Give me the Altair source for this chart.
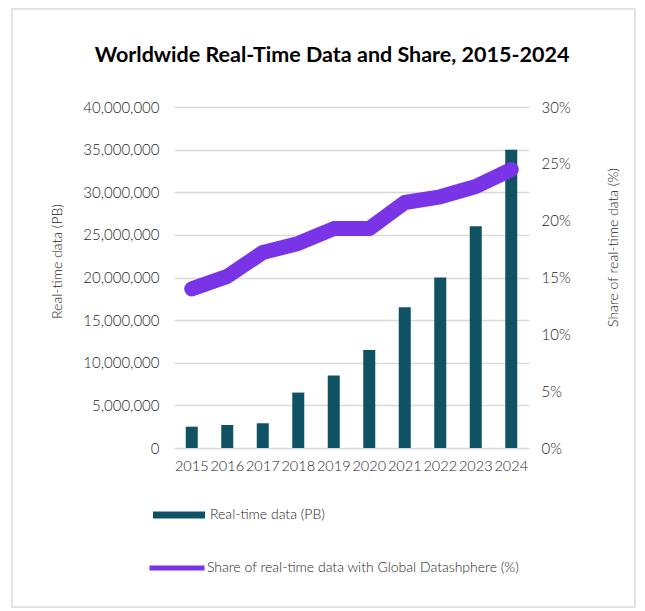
import altair as alt
import pandas as pd

# ---- data ----
years = ["2015", "2016", "2017", "2018", "2019", "2020", "2021", "2022", "2023", "2024"]
realtime_pb = [2500000, 2700000, 2900000, 6500000, 8500000, 11500000, 16500000, 20000000, 26000000, 35000000]
share = [0.140, 0.151, 0.172, 0.180, 0.193, 0.193, 0.216, 0.221, 0.230, 0.245]

title_text = "Worldwide Real-Time Data and Share, 2015-2024"
bar_name = "Real-time data (PB)"
line_name = "Share of real-time data with Global Datashphere (%)"
left_title = "Real-time data (PB)"
right_title = "Share of real-time data (%)"

left_ticks = [0, 5000000, 10000000, 15000000, 20000000, 25000000, 30000000, 35000000, 40000000]
right_ticks = [0, 0.05, 0.10, 0.15, 0.20, 0.25, 0.30]

TEAL = "#0e5263"
PURPLE = "#7934e7"
TXT = "#262626"
FONT = "Lato"
LW = 300

df = pd.DataFrame({
    "year": years,
    "pb": realtime_pb,
    "share": share,
    "bar_series": [bar_name] * len(years),
    "line_series": [line_name] * len(years),
})
deco = pd.DataFrame({"title": [title_text]})

W, H = 355, 341

x_enc = alt.X(
    "year:O",
    scale=alt.Scale(paddingInner=0, paddingOuter=0),
    axis=alt.Axis(
        title=None, labelAngle=0, labelFont=FONT, labelFontSize=14.5, labelFontWeight=LW,
        labelColor=TXT, labelPadding=11, labelOverlap=False,
        ticks=False, domain=False, grid=False,
    ),
)

border = alt.Chart(deco).mark_rect(
    fill="transparent", stroke="#d9d9d9", strokeWidth=1.5
).encode(
    x=alt.value(-162), x2=alt.value(461), y=alt.value(-98), y2=alt.value(500)
)

title = alt.Chart(deco).mark_text(
    font=FONT, fontSize=21.5, fontWeight="bold", color="#000000",
    align="center", baseline="middle",
).encode(
    x=alt.value(158), y=alt.value(-51), text="title:N"
)

bars = alt.Chart(df).mark_bar(size=12).encode(
    x=x_enc,
    y=alt.Y(
        "pb:Q",
        scale=alt.Scale(domain=[0, 40000000], nice=False),
        axis=alt.Axis(
            title=left_title, values=left_ticks, format=",d",
            labelFont=FONT, labelFontSize=15, labelFontWeight=LW, labelColor=TXT, labelPadding=15,
            titleFont=FONT, titleFontSize=14, titleFontWeight=LW, titleColor=TXT,
            titleX=-117, titleY=154, titleAngle=270, titleBaseline="middle",
            ticks=False, domain=False, grid=True, gridColor="#d9d9d9", gridWidth=1.5,
        ),
    ),
    color=alt.Color(
        "bar_series:N",
        scale=alt.Scale(domain=[bar_name], range=[TEAL]),
        legend=alt.Legend(
            title=None, orient="none", legendX=-22, legendY=381, padding=0,
            symbolType="M-1,-0.135H1V0.135H-1Z", symbolSize=2704,
            labelFont=FONT, labelFontSize=14, labelFontWeight=LW, labelColor=TXT, labelOffset=4,
            labelLimit=500,
        ),
    ),
)

line = alt.Chart(df).mark_line(
    strokeWidth=15, strokeCap="round", strokeJoin="round"
).encode(
    x=x_enc,
    y=alt.Y(
        "share:Q",
        scale=alt.Scale(domain=[0, 0.30], nice=False),
        axis=alt.Axis(
            orient="right", title=right_title, values=right_ticks, format=".0%",
            labelFont=FONT, labelFontSize=15, labelFontWeight=LW, labelColor=TXT, labelPadding=12,
            titleFont=FONT, titleFontSize=14, titleFontWeight=LW, titleColor=TXT,
            titleX=84, titleY=140, titleAngle=270, titleBaseline="middle",
            ticks=False, domain=False, grid=False,
        ),
    ),
    stroke=alt.Stroke(
        "line_series:N",
        scale=alt.Scale(domain=[line_name], range=[PURPLE]),
        legend=alt.Legend(
            title=None, orient="none", legendX=-27, legendY=431, padding=0,
            symbolType="stroke", symbolSize=3025, symbolStrokeWidth=5,
            labelFont=FONT, labelFontSize=14, labelFontWeight=LW, labelColor=TXT, labelOffset=0,
            labelLimit=500,
        ),
    ),
)

chart = alt.layer(border, title, bars, line).resolve_scale(
    y="independent"
).properties(
    width=W, height=H,
    padding={"left": 3, "top": 0, "right": 0, "bottom": 0},
    background="white",
).configure_view(stroke=None)

chart.save("out.html", embed_options={"renderer": "svg", "actions": False})
